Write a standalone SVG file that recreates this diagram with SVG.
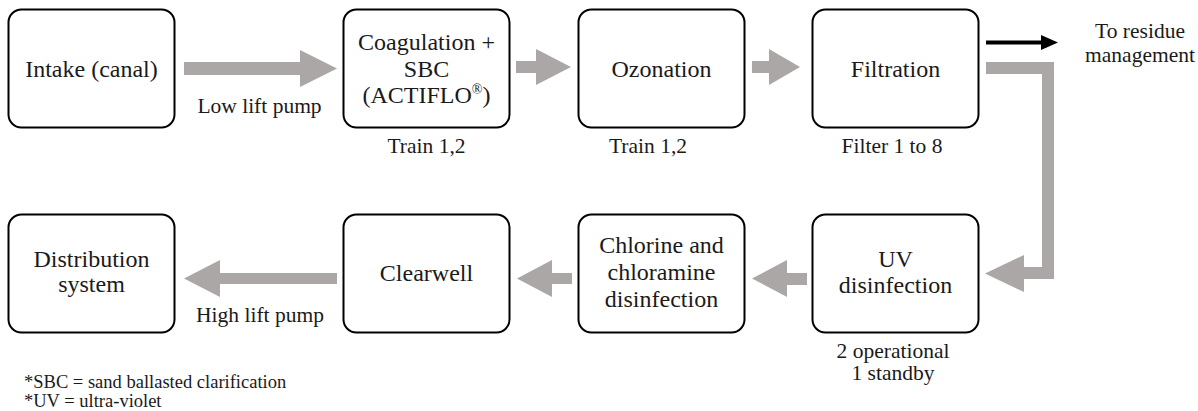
<svg xmlns="http://www.w3.org/2000/svg" width="1198" height="411" viewBox="0 0 1198 411">
<style>
.box{fill:#fff;stroke:#000;stroke-width:2}
text{font-family:"Liberation Serif","Times New Roman",serif;fill:#1a1a1a}
.t{font-size:24px;text-anchor:middle}
.l{font-size:21.5px;text-anchor:middle}
.f{font-size:18.5px}
.g{fill:#aaa7a6}
</style>
<rect width="1198" height="411" fill="#fff"/>
<g id="connectors">
<polygon class="g" points="184,62 300,62 300,50 337,68.5 300,87 300,75 184,75"/>
<polygon class="g" points="516,61 536,61 536,49 571,67 536,85 536,73 516,73"/>
<polygon class="g" points="752,61 769,61 769,49 800,67 769,85 769,73 752,73"/>
<polygon class="g" points="986,62 1054,62 1054,279 1024,279 1024,292 985,273.5 1024,255 1024,267 1042,267 1042,74 986,74"/>
<polygon class="g" points="807,273 787,273 787,260 752,278.5 787,297 787,285 807,285"/>
<polygon class="g" points="572,273 552,273 552,260 517,278.5 552,297 552,284 572,284"/>
<polygon class="g" points="337,273 220,273 220,260 184,278.5 220,297 220,284 337,284"/>
<line x1="986" y1="42.5" x2="1043" y2="42.5" stroke="#000" stroke-width="4"/>
<polygon points="1041,35 1058,42.5 1041,50" fill="#000"/>
</g>
<g id="intake">
<rect class="box" x="8.5" y="9.5" width="166" height="118" rx="13"/>
<text class="t" x="91.5" y="77">Intake (canal)</text>
</g>
<g id="coagulation">
<rect class="box" x="343.5" y="9.5" width="166" height="118" rx="13"/>
<text class="t" x="426.5" y="50">Coagulation +</text>
<text class="t" x="426.5" y="77">SBC</text>
<text class="t" x="426.5" y="103">(ACTIFLO<tspan font-size="14" dy="-9">®</tspan><tspan dy="9">)</tspan></text>
</g>
<g id="ozonation">
<rect class="box" x="578.5" y="9.5" width="166" height="118" rx="13"/>
<text class="t" x="661.5" y="77">Ozonation</text>
</g>
<g id="filtration">
<rect class="box" x="812.5" y="9.5" width="166" height="118" rx="13"/>
<text class="t" x="895.5" y="77">Filtration</text>
</g>
<g id="residue">
<text class="l" x="1140" y="38">To residue</text>
<text class="l" x="1140" y="62">management</text>
</g>
<g id="uv">
<rect class="box" x="812.5" y="214.5" width="166" height="118" rx="13"/>
<text class="t" x="895.5" y="267">UV</text>
<text class="t" x="895.5" y="293">disinfection</text>
</g>
<g id="chlorine">
<rect class="box" x="578.5" y="214.5" width="166" height="118" rx="13"/>
<text class="t" x="661.5" y="253">Chlorine and</text>
<text class="t" x="661.5" y="280">chloramine</text>
<text class="t" x="661.5" y="307">disinfection</text>
</g>
<g id="clearwell">
<rect class="box" x="343.5" y="214.5" width="166" height="118" rx="13"/>
<text class="t" x="426.5" y="281">Clearwell</text>
</g>
<g id="distribution">
<rect class="box" x="8.5" y="214.5" width="166" height="118" rx="13"/>
<text class="t" x="91.5" y="267">Distribution</text>
<text class="t" x="91.5" y="292">system</text>
</g>
<g id="labels">
<text class="l" x="259.5" y="113">Low lift pump</text>
<text class="l" x="426.5" y="153">Train 1,2</text>
<text class="l" x="648" y="153">Train 1,2</text>
<text class="l" x="892" y="153">Filter 1 to 8</text>
<text class="l" x="260" y="322">High lift pump</text>
<text class="l" x="893" y="358" font-size="21">2 operational</text>
<text class="l" x="893" y="380" font-size="21">1 standby</text>
<text class="f" x="24" y="388">*SBC = sand ballasted clarification</text>
<text class="f" x="24" y="407">*UV = ultra-violet</text>
</g>
</svg>
